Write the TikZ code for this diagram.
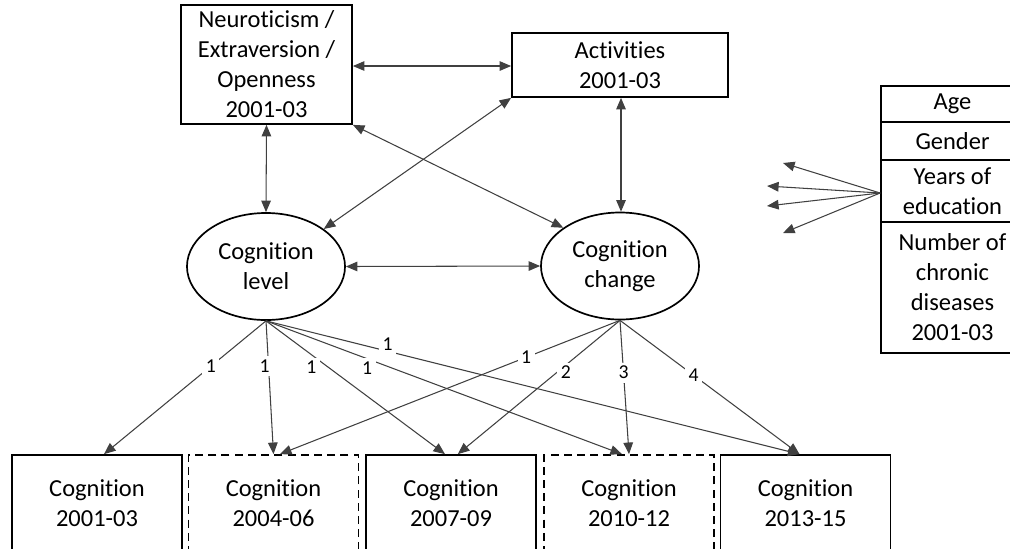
\documentclass[tikz,border=0pt]{standalone}
\usepackage{fontspec}
\setmainfont{Carlito}[Ligatures=NoCommon]
\usepackage{tikz}
\usetikzlibrary{arrows.meta,shapes.geometric}

\begin{document}
\begin{tikzpicture}[x=0.025cm,y=-0.025cm,
 >={Triangle[length=0.29cm,width=0.24cm]},
 font=\fontsize{17.4pt}{21.3pt}\selectfont,
 box/.style={draw,line width=1.2pt,align=center,inner sep=0pt},
 dbox/.style={box,dash pattern=on 0.2cm off 0.13cm},
 lat/.style={ellipse,draw,line width=1.2pt,align=center,inner sep=0pt,
   minimum width=3.95cm,minimum height=2.675cm},
 ln/.style={draw=black!75,line width=0.75pt},
 lab/.style={font=\fontsize{14pt}{16pt}\selectfont,fill=white,inner sep=2.5pt}]
\useasboundingbox (0,0) rectangle (1010,548);
% top row
\node[box,minimum width=4.275cm,minimum height=2.975cm] (neuro) at (266.5,64.5)
 {Neuroticism /\\Extraversion /\\Openness\\2001-03};
\node[box,minimum width=5.4cm,minimum height=1.6cm] (act) at (620,65)
 {Activities\\2001-03};
% latent factors
\node[lat] (clev) at (266,266.5) {Cognition\\level};
\node[lat] (cchg) at (620,266) {Cognition\\change};
% covariates
\node[box,minimum width=3.575cm,minimum height=0.9cm] (age) at (952.5,104) {Age};
\node[box,minimum width=3.575cm,minimum height=0.95cm] (gender) at (952.5,141) {Gender};
\node[box,minimum width=3.575cm,minimum height=1.55cm] (educ) at (952.5,191) {Years of\\education};
\node[box,minimum width=3.575cm,minimum height=3.275cm] (chron) at (952.5,287.5)
 {Number of\\chronic\\diseases\\2001-03};
% waves
\node[box,minimum width=4.25cm,minimum height=2.425cm] (w1) at (97,503.5) {Cognition\\2001-03};
\node[dbox,minimum width=4.25cm,minimum height=2.425cm] (w2) at (273.5,503.5) {Cognition\\2004-06};
\node[box,minimum width=4.25cm,minimum height=2.425cm] (w3) at (451,503.5) {Cognition\\2007-09};
\node[dbox,minimum width=4.25cm,minimum height=2.425cm] (w4) at (629,503.5) {Cognition\\2010-12};
\node[box,minimum width=4.25cm,minimum height=2.425cm] (w5) at (805.5,503.5) {Cognition\\2013-15};

% correlations
\draw[<->,ln] (neuro.east |- 0,66) -- (act.west |- 0,66);
\draw[<->,ln] (neuro.south) -- (clev.north);
\draw[<->,ln] ([xshift=0.025cm]act.south) -- ([xshift=0.025cm]cchg.north);
\draw[<->,ln] (neuro.south east) -- (cchg.146);
\draw[<->,ln] (act.south west) -- (clev.33);
\draw[<->,ln] (clev.east) -- (cchg.west);

% covariate arrows
\coordinate (e1) at (783,163);
\coordinate (e2) at (767,186);
\coordinate (e3) at (767,206);
\coordinate (e4) at (783,233);
\foreach \e in {e1,e2,e3,e4}
 \draw[->,ln] ([yshift=-0.05cm]educ.west) -- (\e);

% loadings
\draw[->,ln] (clev.south) -- node[lab,pos=0.34] {1} ([xshift=0.175cm]w1.north);
\draw[->,ln] (clev.south) -- node[lab,pos=0.34,xshift=-0.1cm] {1} (w2.north);
\draw[->,ln] (clev.south) -- node[lab,pos=0.35,xshift=-0.43cm] {1} ([xshift=-0.15cm]w3.north);
\draw[->,ln] (clev.south) -- node[lab,pos=0.284,yshift=-0.225cm] {1} ([xshift=-0.175cm]w4.north);
\draw[->,ln] (clev.south) -- node[lab,pos=0.228,yshift=0.17cm] {1} ([xshift=-0.15cm]w5.north);
\draw[->,ln] (cchg.south) -- node[lab,pos=0.276] {1} ([xshift=0.16cm]w2.north);
\draw[->,ln] (cchg.south) -- node[lab,pos=0.39,xshift=0.23cm] {2} ([xshift=0.17cm]w3.north);
\draw[->,ln] (cchg.south) -- node[lab,pos=0.39] {3} (w4.north);
\draw[->,ln] (cchg.south) -- node[lab,pos=0.41] {4} ([xshift=-0.15cm]w5.north);
\end{tikzpicture}
\end{document}
